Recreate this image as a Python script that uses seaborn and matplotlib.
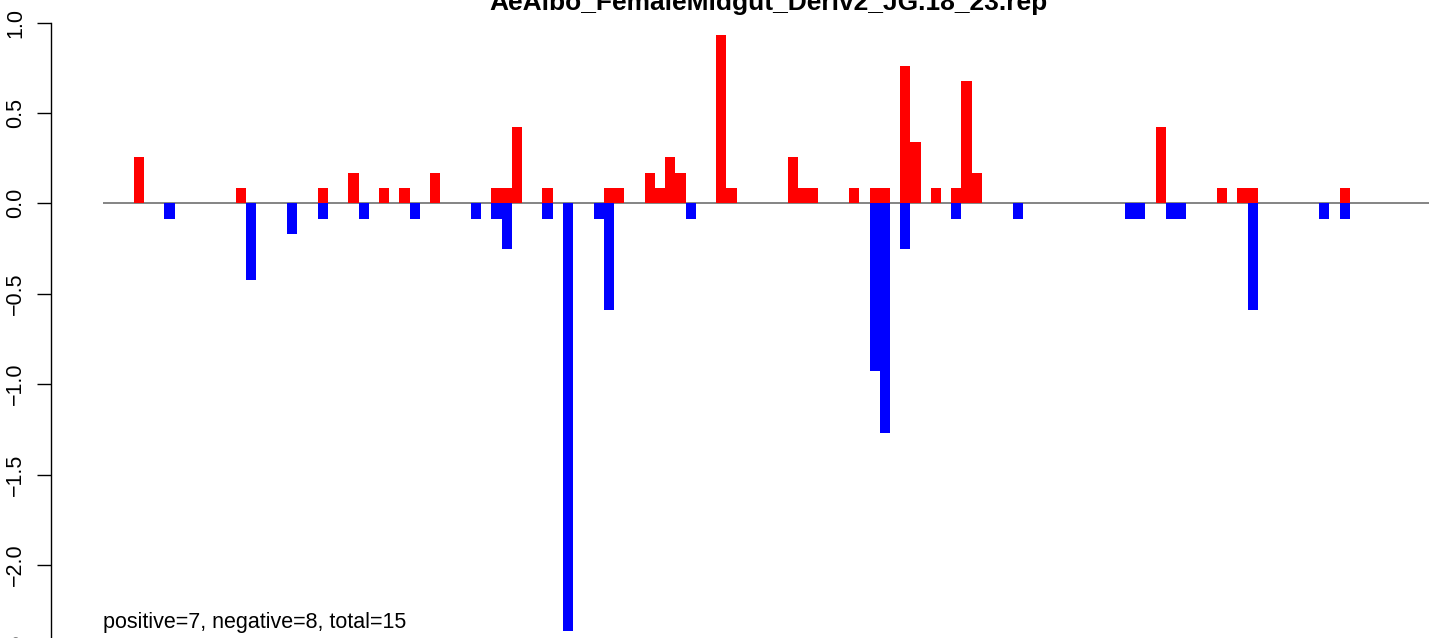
import matplotlib
matplotlib.use("Agg")
import pandas as pd
import seaborn as sns
import matplotlib.pyplot as plt

title = "AeAlbo_FemaleMidgut_Deriv2_JG.18_23.rep"
note = "positive=7, negative=8, total=15"

# bin index and height of each red (positive) bar
red_pos = [3, 13, 21, 24, 27, 29, 32, 38, 39, 40, 43, 49, 50, 53, 54, 55, 56,
           60, 61, 67, 68, 69, 73, 75, 76, 78, 79, 81, 83, 84, 85, 103, 109,
           111, 112, 121]
red_val = [0.254, 0.085, 0.085, 0.169, 0.085, 0.085, 0.169, 0.085, 0.085, 0.423,
           0.085, 0.085, 0.085, 0.169, 0.085, 0.254, 0.169, 0.930, 0.085, 0.254,
           0.085, 0.085, 0.085, 0.085, 0.085, 0.761, 0.338, 0.085, 0.085, 0.676,
           0.169, 0.423, 0.085, 0.085, 0.085, 0.085]

# bin index and height of each blue (negative) bar
blue_pos = [6, 14, 18, 21, 25, 30, 36, 38, 39, 43, 45, 48, 49, 57, 75, 76, 78,
            83, 89, 100, 101, 104, 105, 112, 119, 121]
blue_val = [-0.085, -0.423, -0.169, -0.085, -0.085, -0.085, -0.085, -0.085,
            -0.254, -0.085, -2.366, -0.085, -0.592, -0.085, -0.930, -1.268,
            -0.254, -0.085, -0.085, -0.085, -0.085, -0.085, -0.085, -0.592,
            -0.085, -0.085]

yticks = [-2.5, -2.0, -1.5, -1.0, -0.5, 0.0, 0.5, 1.0]

df = pd.DataFrame({
    "pos": red_pos + blue_pos,
    "val": red_val + blue_val,
    "sign": ["pos"] * len(red_pos) + ["neg"] * len(blue_pos),
})

sns.set_style("ticks")
plt.rcParams["font.family"] = ["Liberation Sans", "DejaVu Sans"]
plt.rcParams["text.color"] = "black"

W, H = 1429, 638
fig = plt.figure(figsize=(W / 100, H / 100), dpi=100)
# plot region runs past the bottom/right edge, like the cropped original
left_px, right_px, bot_px = 103, 1433, 680
ax = fig.add_axes([left_px / W, 1 - bot_px / H, (right_px - left_px) / W, bot_px / H])

sns.barplot(data=df, x="pos", y="val", hue="sign",
            palette={"pos": "#ff0000", "neg": "#0000ff"},
            native_scale=True, dodge=False, width=1, saturation=1,
            errorbar=None, legend=False, linewidth=0, orient="x", ax=ax)

ax.axhline(0, color="#707070", lw=1.2, zorder=0.5)

slot_px = 10.22
unit_px = 180.8
ax.set_xlim(-0.5, -0.5 + (right_px - left_px) / slot_px)
ax.set_ylim(-(bot_px - 203.3) / unit_px, 203.3 / unit_px)

ax.set_xticks([])
ax.set_xlabel("")
ax.set_ylabel("")
for s in ["top", "right", "bottom"]:
    ax.spines[s].set_visible(False)
ax.spines["left"].set_position(("outward", 37.4))
ax.spines["left"].set_bounds(yticks[0], yticks[-1])
ax.spines["left"].set_color("black")
ax.spines["left"].set_linewidth(1.0)
ax.set_yticks(yticks)
ax.set_yticklabels([f"{v:.1f}".replace("-", "\u2212") for v in yticks],
                   rotation=90, va="center", fontsize=15.5)
ax.tick_params(axis="y", length=10, width=1.0, color="black", pad=8,
               labelcolor="black")

ax.set_title(title, fontsize=19, fontweight="bold", color="black",
             y=(bot_px - 10) / bot_px, pad=0)
ax.text(-0.5, -(628 - 203.3) / unit_px, note, ha="left", va="baseline",
        fontsize=15.5, color="black")

fig.savefig("out.png", dpi=100)
